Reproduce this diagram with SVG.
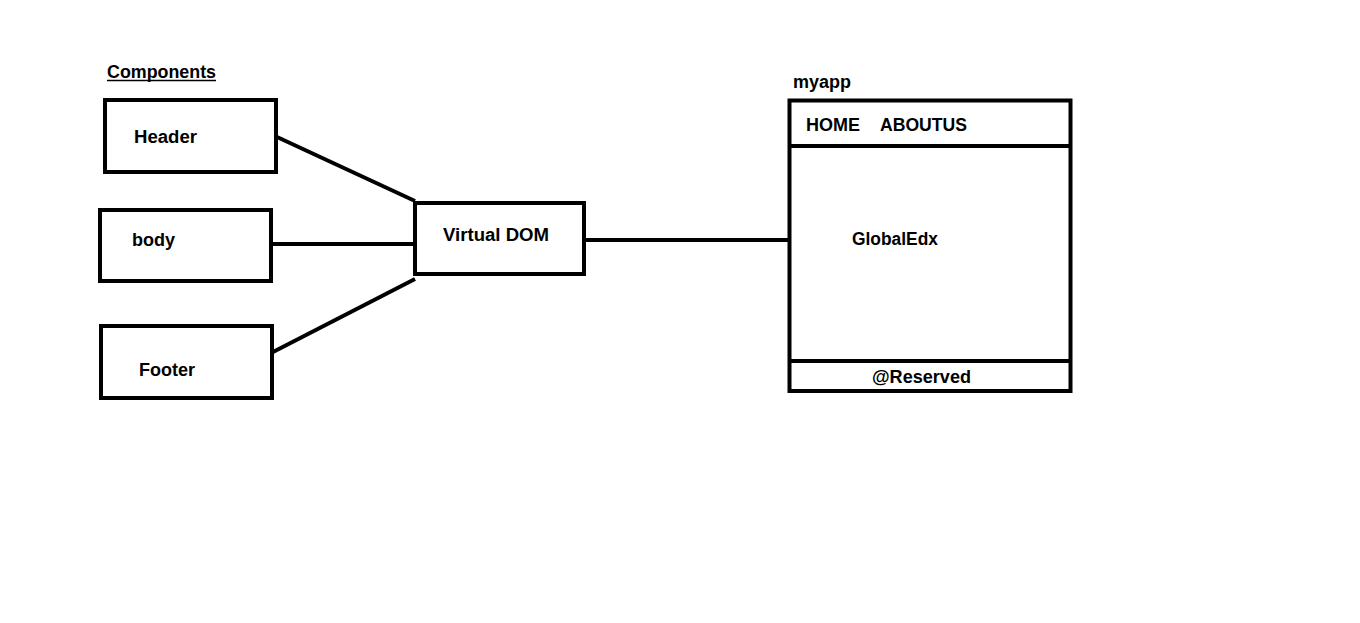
<svg xmlns="http://www.w3.org/2000/svg" width="1360" height="623" viewBox="0 0 1360 623">
<style>
.box{fill:#fff;stroke:#000;stroke-width:4}
.ln{stroke:#000;stroke-width:4;fill:none}
.t{font-family:"Liberation Sans",Arial,sans-serif;font-weight:bold;font-size:18px;fill:#000}
</style>
<rect width="1360" height="623" fill="#fff"/>
<g id="title">
<text class="t" x="107" y="78" textLength="109" lengthAdjust="spacingAndGlyphs">Components</text>
<line x1="107" y1="80.5" x2="216" y2="80.5" stroke="#000" stroke-width="1.5"/>
</g>
<g id="connectors">
<line class="ln" x1="277" y1="137" x2="415" y2="201"/>
<line class="ln" x1="272" y1="244" x2="415" y2="244"/>
<line class="ln" x1="273" y1="352" x2="415" y2="279"/>
<line class="ln" x1="584" y1="240" x2="790" y2="240"/>
</g>
<g id="header">
<rect class="box" x="105" y="100" width="171" height="72"/>
<text class="t" x="134" y="143" textLength="63" lengthAdjust="spacingAndGlyphs">Header</text>
</g>
<g id="body">
<rect class="box" x="100" y="210" width="171" height="71"/>
<text class="t" x="132" y="246" textLength="43" lengthAdjust="spacingAndGlyphs">body</text>
</g>
<g id="footer">
<rect class="box" x="101" y="326" width="171" height="72"/>
<text class="t" x="139" y="376" textLength="56" lengthAdjust="spacingAndGlyphs">Footer</text>
</g>
<g id="vdom">
<rect class="box" x="415" y="203" width="169" height="71"/>
<text class="t" x="443" y="241" textLength="106" lengthAdjust="spacingAndGlyphs">Virtual DOM</text>
</g>
<g id="myapp">
<text class="t" x="793" y="88" textLength="58" lengthAdjust="spacingAndGlyphs">myapp</text>
<rect class="box" x="789.5" y="100.5" width="281" height="290.5"/>
<line class="ln" x1="789.5" y1="146" x2="1070.5" y2="146"/>
<line class="ln" x1="789.5" y1="361" x2="1070.5" y2="361"/>
<text class="t" x="806" y="131" textLength="54" lengthAdjust="spacingAndGlyphs">HOME</text>
<text class="t" x="880" y="131" textLength="87" lengthAdjust="spacingAndGlyphs">ABOUTUS</text>
<text class="t" x="852" y="245" textLength="86" lengthAdjust="spacingAndGlyphs">GlobalEdx</text>
<text class="t" x="872" y="383" textLength="99" lengthAdjust="spacingAndGlyphs">@Reserved</text>
</g>
</svg>
